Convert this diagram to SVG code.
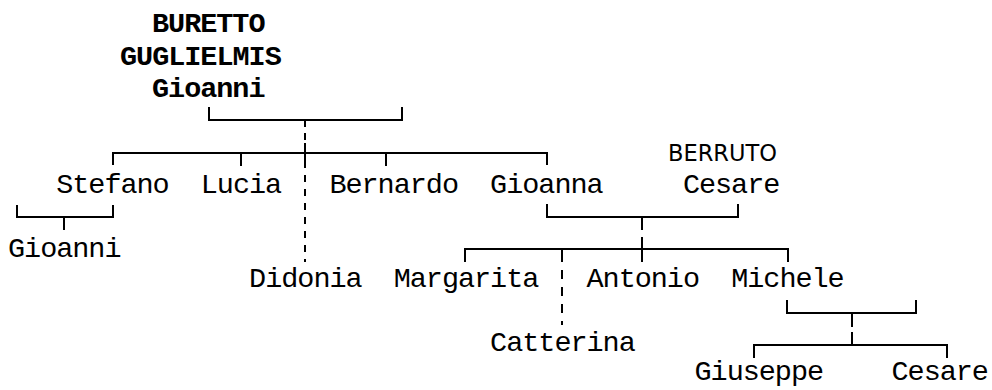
<svg xmlns="http://www.w3.org/2000/svg" width="992" height="390" viewBox="0 0 992 390">
<style>
.bg{fill:#ffffff}
.t{font-family:"Liberation Mono","DejaVu Sans Mono",monospace;font-size:28.5px;letter-spacing:-1.03px;fill:#000}
.b{font-weight:bold}
.s{font-family:"DejaVu Sans","Noto Sans",sans-serif;font-size:22.5px;fill:#000}
.ln{fill:none;stroke:#000;stroke-width:2}
.d1{stroke-dasharray:7 7}
.d2{stroke-dasharray:9 8}
</style>
<rect class="bg" x="0" y="0" width="992" height="390"/>
<g id="connectors">
<path class="ln" d="M209,107 V120 H402 V107"/>
<path class="ln" d="M305,120 V127"/>
<path class="ln" d="M113,165 V153 H547 V165"/>
<path class="ln" d="M241,153 V166 M386,153 V166 M305,143 V167"/>
<path class="ln d1" d="M305,133 V262"/>
<path class="ln" d="M17,205 V217 H113 V205 M64,217 V230"/>
<path class="ln" d="M547,204 V217 H738 V204 M642,217 V230 M642,237 V262"/>
<path class="ln" d="M465,262 V249 H788 V262 M562,249 V262"/>
<path class="ln d2" d="M562,270 V325"/>
<path class="ln" d="M787,300 V313 H916 V300 M852,313 V327 M852,332 V345"/>
<path class="ln" d="M754,358 V345 H947 V358"/>
</g>
<g id="buretto-gioanni">
<text class="t b" x="152" y="32">BURETTO</text>
<text class="t b" x="120" y="65">GUGLIELMIS</text>
<text class="t b" x="152" y="97">Gioanni</text>
</g>
<g id="stefano"><text class="t" x="56.2" y="193">Stefano</text></g>
<g id="lucia"><text class="t" x="200.8" y="193">Lucia</text></g>
<g id="bernardo"><text class="t" x="329.4" y="193">Bernardo</text></g>
<g id="gioanna"><text class="t" x="490.1" y="193">Gioanna</text></g>
<g id="berruto-cesare">
<text class="s" x="668" y="161">BERRUTO</text>
<text class="t" x="682.9" y="193">Cesare</text>
</g>
<g id="gioanni"><text class="t" x="8" y="257">Gioanni</text></g>
<g id="didonia"><text class="t" x="249.1" y="287">Didonia</text></g>
<g id="margarita"><text class="t" x="393.7" y="287">Margarita</text></g>
<g id="antonio"><text class="t" x="586.5" y="287">Antonio</text></g>
<g id="michele"><text class="t" x="731.2" y="287">Michele</text></g>
<g id="catterina"><text class="t" x="490.1" y="351">Catterina</text></g>
<g id="giuseppe"><text class="t" x="694.5" y="380">Giuseppe</text></g>
<g id="cesare2"><text class="t" x="891.5" y="380">Cesare</text></g>
</svg>
